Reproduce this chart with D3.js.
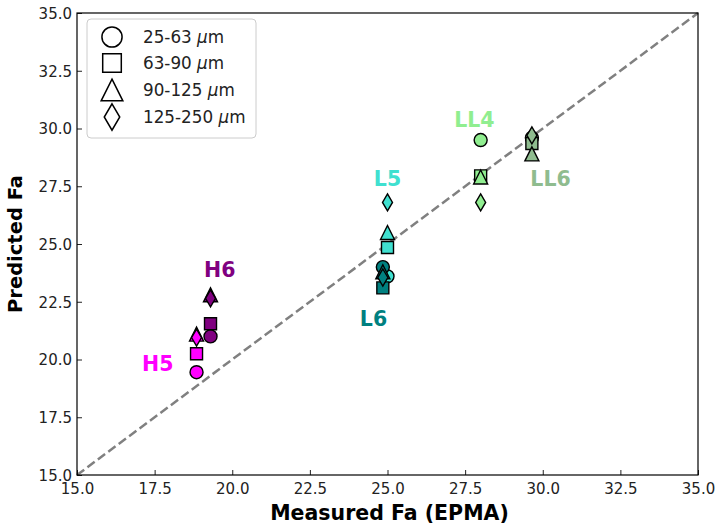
<!DOCTYPE html>
<html><head><meta charset="utf-8">
<script src="https://cdn.jsdelivr.net/npm/d3@7"></script>
<style>body{margin:0;background:#fff}svg{display:block;font-family:"DejaVu Sans",sans-serif}</style>
</head><body><svg id="c" width="721" height="526"></svg>
<script>
const groups = ["H5","H6","L5","L6","LL4","LL6"];
const groupColors = ["#ff00ff","#800080","#40e0d0","#008080","#90ee90","#8fbc8f"];
const measured = [18.85, 19.3, 25.0, 24.85, 28.0, 29.65];
const sizeFractions = ["25-63","63-90","90-125","125-250"];
const markerShapes = ["circle","square","triangle","diamond"];
// predicted Fa for each group, per size fraction (order of sizeFractions)
const predH5  = [19.45, 20.25, 21.1, 20.95];
const predH6  = [21.0, 21.55, 22.8, 22.65];
const predL5  = [23.6, 24.85, 25.5, 26.8];
const predL6  = [24.0, 23.1, 23.8, 23.55];
const predLL4 = [29.5, 27.95, 27.9, 26.8];
const predLL6 = [29.6, 29.35, 28.9, 29.7];
const predicted = [predH5, predH6, predL5, predL6, predLL4, predLL6];
const labelPos = [[17.6,19.5],[19.6,23.55],[25.0,27.5],[24.55,21.45],[27.8,30.05],[30.25,27.5]];
const ticks = [15.0,17.5,20.0,22.5,25.0,27.5,30.0,32.5,35.0];

const svg = d3.select("#c");
const L=77, R=698, T=13, B=475;
const x = d3.scaleLinear().domain([15,35]).range([L,R]);
const y = d3.scaleLinear().domain([15,35]).range([B,T]);

function shapePath(s, k){
  k = k||1;
  if(s==="circle"){const r=6.5*k;return `M${r},0A${r},${r} 0 1,1 ${-r},0A${r},${r} 0 1,1 ${r},0Z`;}
  if(s==="square"){const h=6*k;return `M${-h},${-h}H${h}V${h}H${-h}Z`;}
  if(s==="triangle"){const h=7*k;return `M0,${-h}L${h},${h}L${-h},${h}Z`;}
  const w=5*k,hh=8.5*k;return `M0,${-hh}L${w},0L0,${hh}L${-w},0Z`;
}

// diagonal
svg.append("line").attr("x1",x(15)).attr("y1",y(15)).attr("x2",x(35)).attr("y2",y(35))
  .attr("stroke","#808080").attr("stroke-width",2.5).attr("stroke-dasharray","9,4");

// axes with inward ticks
const gx = svg.append("g").attr("transform",`translate(0,${B})`)
  .call(d3.axisBottom(x).tickValues(ticks).tickFormat(d3.format(".1f")).tickSizeInner(-5).tickSizeOuter(0));
const gy = svg.append("g").attr("transform",`translate(${L},0)`)
  .call(d3.axisLeft(y).tickValues(ticks).tickFormat(d3.format(".1f")).tickSizeInner(-5).tickSizeOuter(0));
[gx,gy].forEach(g=>{g.select(".domain").remove();g.selectAll("text").attr("font-size",15).attr("fill","#222").attr("font-family","DejaVu Sans");g.selectAll("line").attr("stroke","#222");});
gx.selectAll("text").attr("dy","1.05em").attr("y",3);
gy.selectAll("text").attr("x",-5).attr("dy","0.35em");

// points
const pts=[];
groups.forEach((g,gi)=>predicted[gi].forEach((v,si)=>pts.push({gi,si,v})));
svg.append("g").selectAll("path").data(pts).join("path")
  .attr("d",d=>shapePath(markerShapes[d.si]))
  .attr("transform",d=>`translate(${x(measured[d.gi])},${y(d.v)})`)
  .attr("fill",d=>groupColors[d.gi]).attr("stroke","#000").attr("stroke-width",1.4);

// frame
svg.append("rect").attr("x",L).attr("y",T).attr("width",R-L).attr("height",B-T)
  .attr("fill","none").attr("stroke","#000").attr("stroke-width",1.2);

// group labels
svg.append("g").selectAll("text").data(groups).join("text")
  .attr("x",(d,i)=>x(labelPos[i][0])).attr("y",(d,i)=>y(labelPos[i][1]))
  .attr("text-anchor","middle").attr("font-weight","bold").attr("font-size",20.5)
  .attr("fill",(d,i)=>groupColors[i]).text(d=>d);

// legend
const lg = svg.append("g");
lg.append("rect").attr("x",87).attr("y",19).attr("width",169).attr("height",119).attr("rx",4)
  .attr("fill","#fff").attr("fill-opacity",0.85).attr("stroke","#ccc");
const rowsY=[37,63,90,117];
sizeFractions.forEach((s,i)=>{
  lg.append("path").attr("d",shapePath(markerShapes[i],1.55)).attr("transform",`translate(112,${rowsY[i]})`)
    .attr("fill","#fff").attr("stroke","#000").attr("stroke-width",1.5);
  const t=lg.append("text").attr("x",143).attr("y",rowsY[i]+6).attr("font-size",16.8).attr("fill","#222");
  t.append("tspan").text(s+" ");
  t.append("tspan").attr("font-style","italic").text("\u03bc");
  t.append("tspan").text("m");
});

// axis titles
svg.append("text").attr("x",(L+R)/2+2).attr("y",520).attr("text-anchor","middle")
  .attr("font-weight","bold").attr("font-size",20.5).text("Measured Fa (EPMA)");
svg.append("text").attr("transform",`translate(22,${(T+B)/2}) rotate(-90)`).attr("text-anchor","middle")
  .attr("font-weight","bold").attr("font-size",19.5).text("Predicted Fa");
</script></body></html>
